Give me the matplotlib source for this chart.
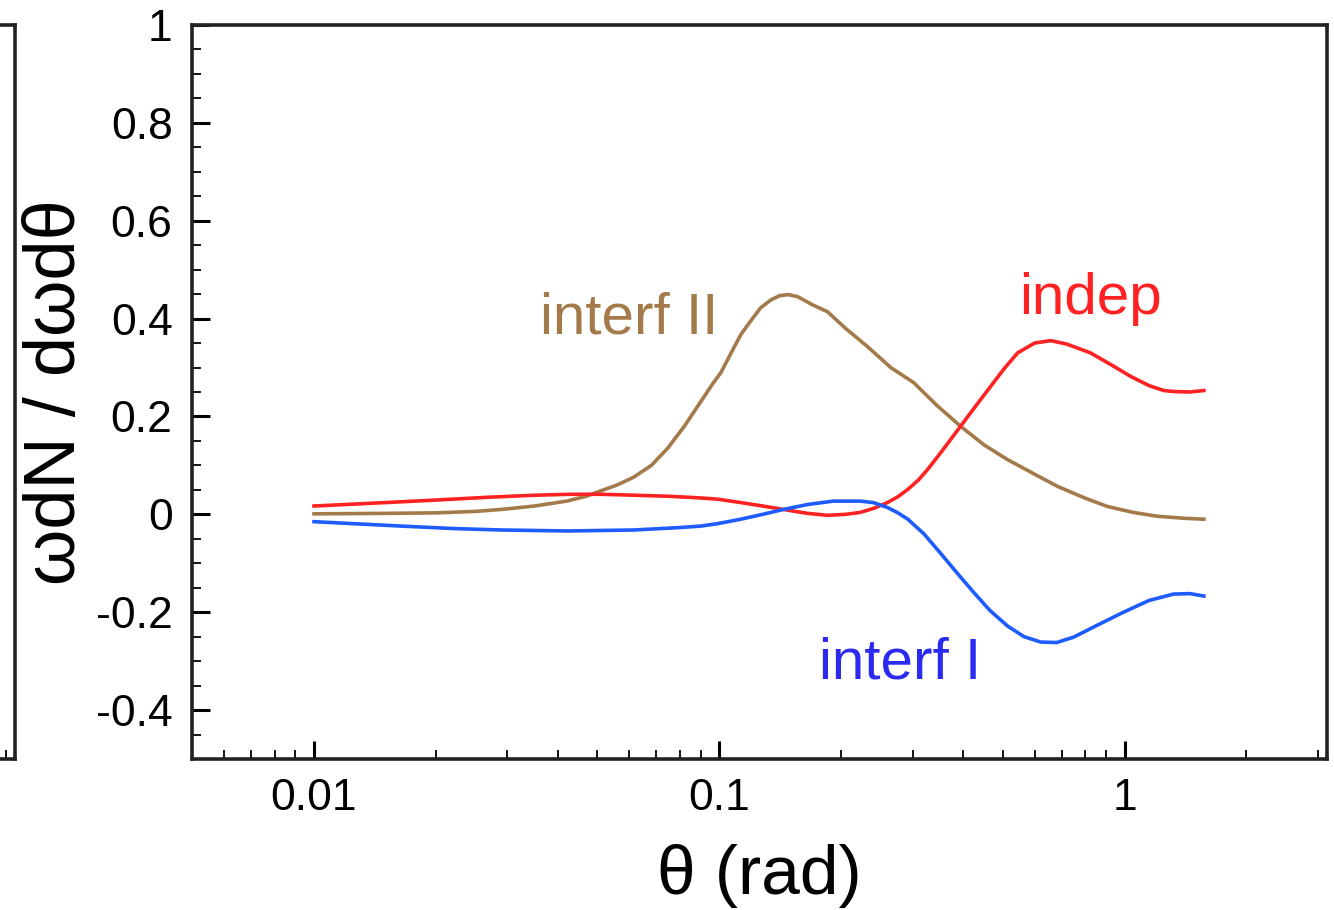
import matplotlib
matplotlib.use("Agg")
import matplotlib.pyplot as plt
from matplotlib.ticker import LogLocator, MultipleLocator, NullFormatter

plt.rcParams["font.family"] = ["Liberation Sans", "DejaVu Sans"]

# interf II (marron)
theta_ii = [0.01, 0.015, 0.02, 0.025, 0.029, 0.035, 0.042, 0.047, 0.051,
            0.056, 0.0615, 0.068, 0.0746, 0.082, 0.09, 0.096, 0.101, 0.107,
            0.113, 0.12, 0.1265, 0.134, 0.141, 0.148, 0.156, 0.17, 0.185,
            0.205, 0.232, 0.265, 0.302, 0.345, 0.394, 0.45, 0.514, 0.6,
            0.684, 0.8, 0.908, 1.05, 1.206, 1.4, 1.57]
val_ii = [0.001, 0.002, 0.003, 0.006, 0.010, 0.017, 0.027, 0.037, 0.048,
          0.060, 0.076, 0.10, 0.135, 0.18, 0.23, 0.265, 0.29, 0.33,
          0.367, 0.397, 0.422, 0.438, 0.447, 0.449, 0.445, 0.428, 0.414,
          0.38, 0.343, 0.30, 0.269, 0.222, 0.18, 0.142, 0.112, 0.082,
          0.057, 0.033, 0.016, 0.004, -0.004, -0.008, -0.01]

# indep (rojo)
theta_ind = [0.01, 0.015, 0.0198, 0.027, 0.0349, 0.043, 0.051, 0.062,
             0.0746, 0.088, 0.0991, 0.113, 0.128, 0.144, 0.165, 0.185,
             0.205, 0.223, 0.24, 0.26, 0.276, 0.292, 0.31, 0.327, 0.352,
             0.394, 0.43, 0.468, 0.505, 0.545, 0.6, 0.657, 0.72, 0.824,
             0.93, 1.035, 1.15, 1.25, 1.32, 1.45, 1.57]
val_ind = [0.017, 0.024, 0.029, 0.035, 0.039, 0.041, 0.041, 0.039,
           0.037, 0.034, 0.031, 0.024, 0.017, 0.010, 0.002, -0.002,
           0.000, 0.004, 0.012, 0.024, 0.036, 0.051, 0.07, 0.092, 0.126,
           0.18, 0.222, 0.262, 0.298, 0.33, 0.35, 0.355, 0.348, 0.33,
           0.305, 0.282, 0.263, 0.253, 0.251, 0.25, 0.253]

# interf I (azul)
theta_i = [0.01, 0.0164, 0.022, 0.0289, 0.0423, 0.0615, 0.08, 0.0901,
           0.0991, 0.113, 0.128, 0.144, 0.165, 0.191, 0.223, 0.24, 0.26,
           0.276, 0.292, 0.32, 0.352, 0.39, 0.424, 0.465, 0.514, 0.565,
           0.621, 0.68, 0.749, 0.85, 0.994, 1.15, 1.32, 1.45, 1.57]
val_i = [-0.015, -0.024, -0.029, -0.032, -0.034, -0.032, -0.027, -0.024,
         -0.019, -0.010, 0.000, 0.010, 0.020, 0.027, 0.027, 0.024, 0.014,
         0.003, -0.010, -0.04, -0.08, -0.124, -0.159, -0.196, -0.228, -0.25,
         -0.261, -0.262, -0.251, -0.228, -0.2, -0.176, -0.163, -0.162, -0.167]

y_ticks = [-0.4, -0.2, 0, 0.2, 0.4, 0.6, 0.8, 1]
y_labels = ["-0.4", "-0.2", "0", "0.2", "0.4", "0.6", "0.8", "1"]
x_ticks = [0.01, 0.1, 1]
x_labels = ["0.01", "0.1", "1"]

C_II = "#a47a4b"
C_IND = "#ff2222"
C_I = "#1e5cff"

W, H = 1334, 910
fig = plt.figure(figsize=(W / 100, H / 100), dpi=100)

left, right, top, bottom = 192 / W, 1327 / W, 1 - 25 / H, 1 - 759 / H
ancho, alto = right - left, top - bottom
ax = fig.add_axes([left, bottom, ancho, alto])


def estilo(a):
    a.set_xscale("log")
    a.set_xlim(0.005, 3.16)
    a.set_ylim(-0.5, 1.0)
    for s in a.spines.values():
        s.set_linewidth(2.6)
        s.set_color("#222222")
    a.xaxis.set_minor_locator(LogLocator(base=10, subs=range(2, 10)))
    a.xaxis.set_minor_formatter(NullFormatter())
    a.yaxis.set_minor_locator(MultipleLocator(0.05))
    a.tick_params(which="both", direction="in", top=False, right=False)
    a.tick_params(which="major", length=13, width=2.2)
    a.tick_params(which="minor", length=6.5, width=1.3)


estilo(ax)

# panel vecino recortado a la izquierda
ax0 = fig.add_axes([15 / W - ancho, bottom, ancho, alto])
estilo(ax0)
ax0.tick_params(labelbottom=False, labelleft=False)

ax.plot(theta_ii, val_ii, color=C_II, lw=2.6)
ax.plot(theta_ind, val_ind, color=C_IND, lw=2.6)
ax.plot(theta_i, val_i, color=C_I, lw=2.6)

ax.set_xticks(x_ticks)
ax.set_xticklabels(x_labels)
ax.set_yticks(y_ticks)
ax.set_yticklabels(y_labels)
ax.tick_params(axis="y", labelsize=32, pad=14)
ax.tick_params(axis="x", labelsize=32, pad=14)

ax.set_xlabel("θ (rad)", fontsize=50, labelpad=18)
ax.set_ylabel("ωdN / dωdθ", fontsize=52, labelpad=4)

ax.text(0.06, 0.40, "interf II", color=C_II, fontsize=42,
        ha="center", va="center")
ax.text(0.823, 0.44, "indep", color=C_IND, fontsize=42,
        ha="center", va="center")
ax.text(0.279, -0.305, "interf I", color="#2a2af0", fontsize=42,
        ha="center", va="center")

fig.savefig("out.png", dpi=100)
